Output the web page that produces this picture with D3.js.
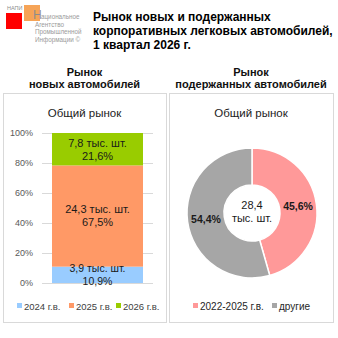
<!DOCTYPE html>
<html><head><meta charset="utf-8">
<script src="https://cdn.jsdelivr.net/npm/d3@7"></script>
<style>body{margin:0;background:#fff}svg{display:block}</style>
</head><body><svg id="c" width="338" height="338"></svg>
<script>
// ---- data ----
const newCategories = ["2024 г.в.", "2025 г.в.", "2026 г.в."];
const newShares = [0.109, 0.675, 0.216];
const newUnits = ["3,9 тыс. шт.", "24,3 тыс. шт.", "7,8 тыс. шт."];
const newShareLabels = ["10,9%", "67,5%", "21,6%"];
const newColors = ["#99CCFF", "#FF9966", "#99CC00"];
const yTicks = [0, 0.2, 0.4, 0.6, 0.8, 1.0];
const yTickLabels = ["0%", "20%", "40%", "60%", "80%", "100%"];

const usedCategories = ["2022-2025 г.в.", "другие"];
const usedShares = [45.6, 54.4];
const usedShareLabels = ["45,6%", "54,4%"];
const usedColors = ["#FF9999", "#A6A6A6"];
const usedTotal = ["28,4", "тыс. шт."];

const titleLines = ["Рынок новых и подержанных", "корпоративных легковых автомобилей,", "1 квартал 2026 г."];
const logoLines = ["ациональное", "Агентство", "Промышленной", "Информации ©"];

const svg = d3.select("#c");
const F = "'Liberation Sans', Arial, sans-serif";

// ---- logo ----
svg.append("rect").attr("x",6).attr("y",13).attr("width",16).attr("height",16).attr("fill","#FF0000");
svg.append("rect").attr("x",24).attr("y",5).attr("width",16).attr("height",16).attr("fill","#F59A45").attr("opacity",0.9);
svg.append("text").attr("x",7).attr("y",10).attr("font-family",F).attr("font-size",5.5).attr("fill","#8c8c8c").text("НАПИ");
svg.append("text").attr("x",33).attr("y",19).attr("font-family",F).attr("font-size",12).attr("fill","#8c8c8c").text("Н");
logoLines.forEach((t,i)=>{
  svg.append("text").attr("x", i===0?41:35).attr("y",19+i*7.7).attr("font-family",F)
    .attr("font-size",6.3).attr("fill","#9a9a9a").text(t);
});

// ---- title ----
titleLines.forEach((t,i)=>{
  svg.append("text").attr("x",93).attr("y",21+i*14).attr("font-family",F).attr("font-weight","bold")
    .attr("font-size",12).attr("fill","#000").text(t);
});

// ---- panel headers ----
const panels = [{x0:3,x1:166,h:["Рынок","новых автомобилей"]},{x0:169,x1:333,h:["Рынок","подержанных автомобилей"]}];
panels.forEach(p=>{
  const cx=(p.x0+p.x1)/2;
  p.h.forEach((t,i)=>svg.append("text").attr("x",cx).attr("y",76+i*11.5).attr("text-anchor","middle")
    .attr("font-family",F).attr("font-weight","bold").attr("font-size",11).attr("fill","#111").text(t));
  svg.append("rect").attr("x",p.x0+0.5).attr("y",93.5).attr("width",p.x1-p.x0).attr("height",229)
    .attr("fill","#fff").attr("stroke","#d9d9d9");
  svg.append("text").attr("x",cx).attr("y",117).attr("text-anchor","middle").attr("font-family",F)
    .attr("font-size",11.5).attr("fill","#222").text("Общий рынок");
});

// ---- stacked bar ----
const y = d3.scaleLinear().domain([0,1]).range([283,133]);
const x = d3.scaleBand().domain(["all"]).range([42,153]).paddingInner(0).paddingOuter(0.11);
const g = svg.append("g");
g.selectAll("line.grid").data(yTicks).join("line")
  .attr("x1",42).attr("x2",153).attr("y1",d=>y(d)+0.5).attr("y2",d=>y(d)+0.5)
  .attr("stroke","#d9d9d9");
const yAxis = d3.axisLeft(y).tickValues(yTicks).tickFormat((d,i)=>yTickLabels[i]).tickSize(0).tickPadding(0);
const ax = svg.append("g").attr("transform","translate(33,0)").call(yAxis);
ax.select(".domain").remove();
ax.selectAll("text").attr("font-family",F).attr("font-size",9).attr("fill","#595959");

let cum=0;
const segs = newShares.map((v,i)=>{const s={i,y0:cum,y1:cum+v};cum+=v;return s;});
g.selectAll("rect.seg").data(segs).join("rect")
  .attr("x",x("all")).attr("width",x.bandwidth())
  .attr("y",d=>y(d.y1)).attr("height",d=>y(d.y0)-y(d.y1))
  .attr("fill",d=>newColors[d.i]);
segs.forEach(d=>{
  const h=y(d.y0)-y(d.y1);
  const cy=(y(d.y0)+y(d.y1))/2;
  const sp=Math.min(13,h*0.78);
  const fs=sp<13?10.5:11;
  const cx=x("all")+x.bandwidth()/2;
  [newUnits[d.i],newShareLabels[d.i]].forEach((t,k)=>{
    svg.append("text").attr("x",cx).attr("y",cy+(k===0?-sp/2:sp/2)).attr("dy","0.35em")
      .attr("text-anchor","middle").attr("font-family",F).attr("font-size",fs).attr("fill","#1a1a1a").text(t);
  });
});

// legend left
const legL = [17,69,116];
newCategories.forEach((c,i)=>{
  svg.append("rect").attr("x",legL[i]).attr("y",303).attr("width",5).attr("height",5).attr("fill",newColors[i]);
  svg.append("text").attr("x",legL[i]+7).attr("y",309.5).attr("font-family",F).attr("font-size",9.5)
    .attr("fill","#404040").text(c);
});

// ---- donut ----
const cxD=252, cyD=213;
const pie = d3.pie().sort(null).startAngle(0).endAngle(2*Math.PI);
const arc = d3.arc().innerRadius(28).outerRadius(65);
const arcs = pie(usedShares);
const dg = svg.append("g").attr("transform",`translate(${cxD},${cyD})`);
dg.selectAll("path").data(arcs).join("path").attr("d",arc)
  .attr("fill",(d,i)=>usedColors[i]).attr("stroke","#fff").attr("stroke-width",1.5);
dg.selectAll("text.lbl").data(arcs).join("text")
  .attr("transform",d=>`translate(${arc.centroid(d)})`).attr("dy","0.35em").attr("text-anchor","middle")
  .attr("font-family",F).attr("font-size",10.5).attr("font-weight","bold").attr("fill","#1a1a1a")
  .text((d,i)=>usedShareLabels[i]);
usedTotal.forEach((t,i)=>{
  dg.append("text").attr("x",0).attr("y",i===0?-8:5).attr("dy","0.35em").attr("text-anchor","middle")
    .attr("font-family",F).attr("font-size",11).attr("fill","#1a1a1a").text(t);
});

// legend right
const legR = [193,272];
usedCategories.forEach((c,i)=>{
  svg.append("rect").attr("x",legR[i]).attr("y",303).attr("width",5).attr("height",5).attr("fill",usedColors[i]);
  svg.append("text").attr("x",legR[i]+7).attr("y",309.5).attr("font-family",F).attr("font-size",10)
    .attr("fill","#262626").text(c);
});
</script></body></html>
